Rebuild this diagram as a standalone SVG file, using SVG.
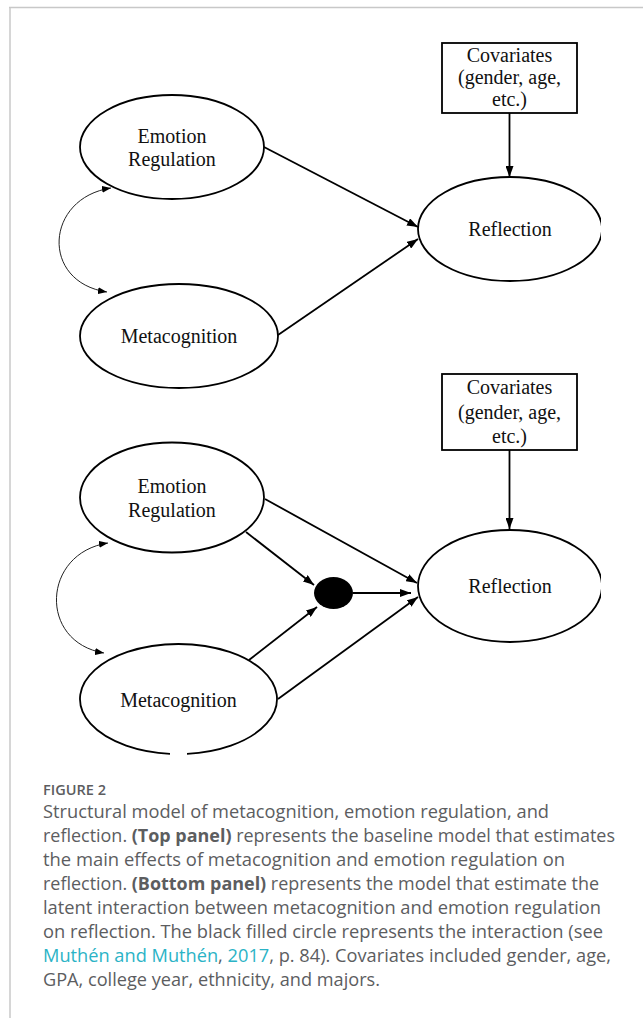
<svg xmlns="http://www.w3.org/2000/svg" width="643" height="1018" viewBox="0 0 643 1018">
<style>
.node{fill:#fff;stroke:#000;stroke-width:1.8}
.lbl{font-family:"Liberation Serif","Times New Roman",serif;font-size:20px;fill:#111;text-anchor:middle}
.edge{stroke:#000;stroke-width:1.8;fill:none}
.cov{stroke:#222;stroke-width:1;fill:none}
.cap{font-family:"Open Sans","Noto Sans",sans-serif;font-size:17.5px;fill:#5c5d5f}
.b{font-weight:700}
.link{fill:#2bb3c6}
</style>
<defs>
<marker id="arr" markerUnits="userSpaceOnUse" markerWidth="11" markerHeight="8" refX="11" refY="4" orient="auto"><path d="M0,0 L11,4 L0,8 z" fill="#000"/></marker>
<marker id="sarr" markerUnits="userSpaceOnUse" markerWidth="9" markerHeight="7" refX="9" refY="3.5" orient="auto-start-reverse"><path d="M0,0 L9,3.5 L0,7 z" fill="#000"/></marker>
<clipPath id="clipR"><rect x="0" y="0" width="601" height="1018"/></clipPath>
</defs>
<rect width="643" height="1018" fill="#fff"/>
<g id="frame" stroke="#c8c8c8" stroke-width="1.5">
<line x1="9" y1="7.5" x2="643" y2="7.5"/>
<line x1="10" y1="7" x2="10" y2="1018"/>
</g>

<!-- Top panel -->
<g id="top-emotion"><ellipse class="node" cx="172" cy="147" rx="92" ry="52"/><text class="lbl" x="172" y="143">Emotion</text><text class="lbl" x="172" y="166">Regulation</text></g>
<g id="top-meta"><ellipse class="node" cx="179" cy="336" rx="99" ry="52"/><text class="lbl" x="179" y="343">Metacognition</text></g>
<g id="top-reflection"><ellipse class="node" cx="510" cy="229" rx="92" ry="52" clip-path="url(#clipR)"/><text class="lbl" x="510" y="236">Reflection</text></g>
<g id="top-covariates"><rect class="node" x="442" y="43" width="135" height="70"/><text class="lbl" x="509.5" y="62">Covariates</text><text class="lbl" x="509.5" y="84">(gender, age,</text><text class="lbl" x="509.5" y="106">etc.)</text></g>

<!-- Bottom panel -->
<g id="bot-emotion"><ellipse class="node" cx="172" cy="497.5" rx="92" ry="55"/><text class="lbl" x="172" y="493">Emotion</text><text class="lbl" x="172" y="517">Regulation</text></g>
<g id="bot-meta"><path class="node" d="M187 753.8 A98.5 55 0 1 0 170 753.8"/><text class="lbl" x="178.5" y="707">Metacognition</text></g>
<g id="bot-reflection"><ellipse class="node" cx="510" cy="586" rx="92" ry="56" clip-path="url(#clipR)"/><text class="lbl" x="510" y="593">Reflection</text></g>
<g id="bot-covariates"><rect class="node" x="442" y="374" width="135" height="76"/><text class="lbl" x="509.5" y="394">Covariates</text><text class="lbl" x="509.5" y="419">(gender, age,</text><text class="lbl" x="509.5" y="443">etc.)</text></g>
<g id="interaction"><ellipse cx="333.5" cy="593" rx="19.5" ry="16" fill="#000"/></g>

<g id="connectors">
<line class="edge" x1="264" y1="147" x2="418" y2="227" marker-end="url(#arr)"/>
<line class="edge" x1="278" y1="335" x2="418" y2="239" marker-end="url(#arr)"/>
<line class="edge" x1="509.5" y1="113" x2="509.5" y2="177" marker-end="url(#arr)"/>
<path class="cov" d="M111 188 C45 198 40 282 107 292" marker-start="url(#sarr)" marker-end="url(#sarr)"/>

<line class="edge" x1="265" y1="499" x2="417" y2="583" marker-end="url(#arr)"/>
<line class="edge" x1="246" y1="532" x2="314" y2="585" marker-end="url(#arr)"/>
<line class="edge" x1="249" y1="660" x2="317" y2="607" marker-end="url(#arr)"/>
<line class="edge" x1="278" y1="699" x2="418" y2="597" marker-end="url(#arr)"/>
<line class="edge" x1="353" y1="593" x2="411" y2="593" marker-end="url(#arr)"/>
<line class="edge" x1="509.5" y1="450" x2="509.5" y2="529" marker-end="url(#arr)"/>
<path class="cov" d="M108 543 C42 553 38 642 104 653" marker-start="url(#sarr)" marker-end="url(#sarr)"/>
</g>

<g id="caption">
<text class="cap" x="43" y="795" style="font-size:14px;font-weight:600" textLength="63" lengthAdjust="spacingAndGlyphs">FIGURE 2</text>
<text class="cap" x="43" y="818" textLength="506" lengthAdjust="spacingAndGlyphs">Structural model of metacognition, emotion regulation, and</text>
<text class="cap" x="43" y="842" textLength="572" lengthAdjust="spacingAndGlyphs">reflection. <tspan class="b">(Top panel)</tspan> represents the baseline model that estimates</text>
<text class="cap" x="43" y="866" textLength="522" lengthAdjust="spacingAndGlyphs">the main effects of metacognition and emotion regulation on</text>
<text class="cap" x="43" y="890" textLength="556" lengthAdjust="spacingAndGlyphs">reflection. <tspan class="b">(Bottom panel)</tspan> represents the model that estimate the</text>
<text class="cap" x="43" y="914" textLength="558" lengthAdjust="spacingAndGlyphs">latent interaction between metacognition and emotion regulation</text>
<text class="cap" x="43" y="938" textLength="560" lengthAdjust="spacingAndGlyphs">on reflection. The black filled circle represents the interaction (see</text>
<text class="cap" x="43" y="962" textLength="568" lengthAdjust="spacingAndGlyphs"><tspan class="link">Muthén and Muthén</tspan>, <tspan class="link">2017</tspan>, p. 84). Covariates included gender, age,</text>
<text class="cap" x="43" y="986" textLength="337" lengthAdjust="spacingAndGlyphs">GPA, college year, ethnicity, and majors.</text>
</g>
</svg>
